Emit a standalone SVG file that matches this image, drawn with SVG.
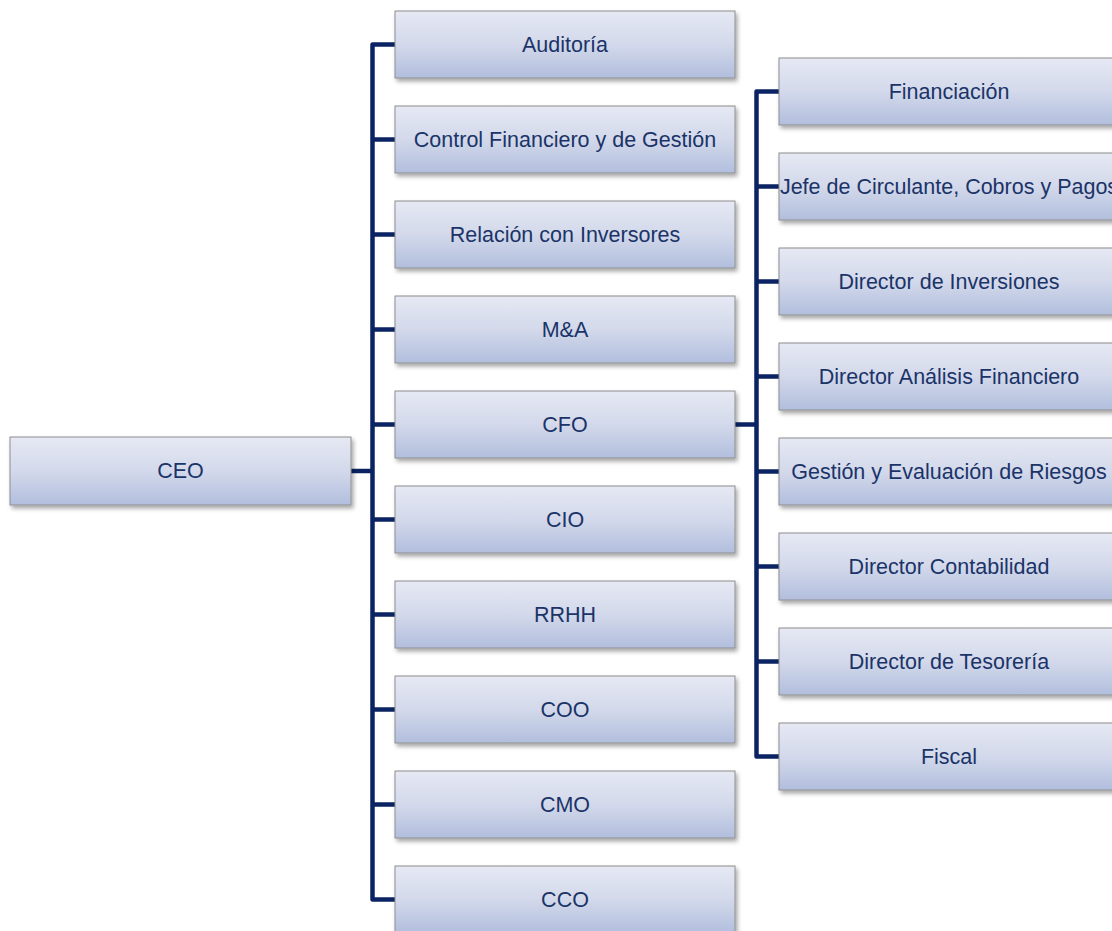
<svg xmlns="http://www.w3.org/2000/svg" width="1112" height="931" viewBox="0 0 1112 931">
<defs>
<linearGradient id="g" x1="0" y1="0" x2="0" y2="1">
<stop offset="0" stop-color="#E6E9F4"/>
<stop offset="0.5" stop-color="#D3D9EB"/>
<stop offset="1" stop-color="#B1BEDD"/>
</linearGradient>
<filter id="sh" x="-5%" y="-10%" width="115%" height="140%">
<feDropShadow dx="2" dy="3" stdDeviation="2" flood-color="#000" flood-opacity="0.35"/>
</filter>
</defs>
<style>
.box{fill:url(#g);stroke:#8E8E8E;stroke-width:1;filter:url(#sh)}
.t{font-family:"Liberation Sans",Arial,sans-serif;font-size:21.5px;fill:#1B3468;text-anchor:middle;dominant-baseline:central}
.c{fill:none;stroke:#0B2363;stroke-width:4.5;stroke-linejoin:round;stroke-linecap:butt}
</style>
<rect width="1112" height="931" fill="#FFFFFF"/>
<g id="connectors">
<path class="c" d="M351 471H372.5"/>
<path class="c" d="M395 44.5H372.5V899.5H395"/>
<path class="c" d="M372.5 139.5H395M372.5 234.5H395M372.5 329.5H395M372.5 424.5H395M372.5 519.5H395M372.5 614.5H395M372.5 709.5H395M372.5 804.5H395"/>
<path class="c" d="M735 424.5H756.5"/>
<path class="c" d="M779 91.5H756.5V756.5H779"/>
<path class="c" d="M756.5 186.5H779M756.5 281.5H779M756.5 376.5H779M756.5 471.5H779M756.5 566.5H779M756.5 661.5H779"/>
</g>
<g id="ceo"><rect class="box" x="10" y="437" width="341" height="68"/><text class="t" x="180.5" y="471">CEO</text></g>
<g id="auditoria"><rect class="box" x="395" y="11" width="340" height="67"/><text class="t" x="565" y="44.5">Auditoría</text></g>
<g id="control"><rect class="box" x="395" y="106" width="340" height="67"/><text class="t" x="565" y="139.5">Control Financiero y de Gestión</text></g>
<g id="relacion"><rect class="box" x="395" y="201" width="340" height="67"/><text class="t" x="565" y="234.5">Relación con Inversores</text></g>
<g id="ma"><rect class="box" x="395" y="296" width="340" height="67"/><text class="t" x="565" y="329.5">M&amp;A</text></g>
<g id="cfo"><rect class="box" x="395" y="391" width="340" height="67"/><text class="t" x="565" y="424.5">CFO</text></g>
<g id="cio"><rect class="box" x="395" y="486" width="340" height="67"/><text class="t" x="565" y="519.5">CIO</text></g>
<g id="rrhh"><rect class="box" x="395" y="581" width="340" height="67"/><text class="t" x="565" y="614.5">RRHH</text></g>
<g id="coo"><rect class="box" x="395" y="676" width="340" height="67"/><text class="t" x="565" y="709.5">COO</text></g>
<g id="cmo"><rect class="box" x="395" y="771" width="340" height="67"/><text class="t" x="565" y="804.5">CMO</text></g>
<g id="cco"><rect class="box" x="395" y="866" width="340" height="67"/><text class="t" x="565" y="899.5">CCO</text></g>
<g id="financiacion"><rect class="box" x="779" y="58" width="340" height="67"/><text class="t" x="949" y="91.5">Financiación</text></g>
<g id="jefe"><rect class="box" x="779" y="153" width="340" height="67"/><text class="t" x="949" y="186.5">Jefe de Circulante, Cobros y Pagos</text></g>
<g id="inversiones"><rect class="box" x="779" y="248" width="340" height="67"/><text class="t" x="949" y="281.5">Director de Inversiones</text></g>
<g id="analisis"><rect class="box" x="779" y="343" width="340" height="67"/><text class="t" x="949" y="376.5">Director Análisis Financiero</text></g>
<g id="riesgos"><rect class="box" x="779" y="438" width="340" height="67"/><text class="t" x="949" y="471.5">Gestión y Evaluación de Riesgos</text></g>
<g id="contabilidad"><rect class="box" x="779" y="533" width="340" height="67"/><text class="t" x="949" y="566.5">Director Contabilidad</text></g>
<g id="tesoreria"><rect class="box" x="779" y="628" width="340" height="67"/><text class="t" x="949" y="661.5">Director de Tesorería</text></g>
<g id="fiscal"><rect class="box" x="779" y="723" width="340" height="67"/><text class="t" x="949" y="756.5">Fiscal</text></g>
</svg>
